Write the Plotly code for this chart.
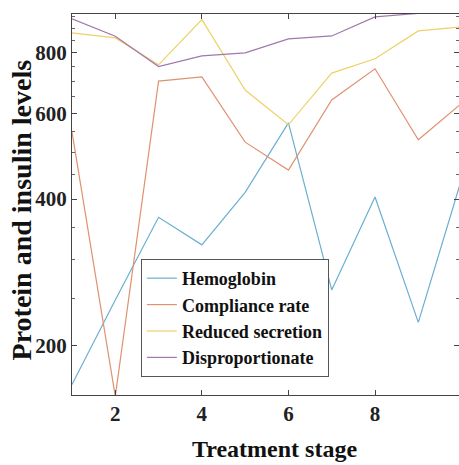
import plotly.graph_objects as go

stages = [1, 2, 3, 4, 5, 6, 7, 8, 9, 10]
hemoglobin = [166, 248, 367, 322, 413, 574, 260, 404, 223, 440]
compliance = [550, 157, 700, 714, 524, 459, 640, 742, 530, 630]
reduced = [880, 859, 756, 937, 671, 569, 727, 778, 888, 905]
dispro = [940, 866, 750, 789, 800, 855, 867, 949, 965, 975]

series = [
    ("Hemoglobin", hemoglobin, "#6aafd0"),
    ("Compliance rate", compliance, "#e09270"),
    ("Reduced secretion", reduced, "#eed168"),
    ("Disproportionate", dispro, "#a078ac"),
]

y_ticks = [200, 400, 600, 800]
y_minor = [150, 250, 300, 350, 450, 500, 550, 650, 700, 750, 850, 900, 950]
x_ticks = [2, 4, 6, 8]

FONT = "Liberation Serif, Times New Roman, serif"

fig = go.Figure()
for name, vals, color in series:
    fig.add_trace(go.Scatter(x=stages, y=vals, mode="lines", name=name,
                             line=dict(color=color, width=1.2)))

axis_common = dict(showgrid=False, zeroline=False, showline=True, linecolor="#444444",
                   linewidth=1, mirror="allticks", ticks="inside", tickcolor="#444444",
                   ticklen=5, tickwidth=1,
                   tickfont=dict(family=FONT, size=21, color="#222222", weight="bold"))

fig.update_layout(
    width=459, height=465,
    margin=dict(l=72, r=0, t=14, b=70),
    paper_bgcolor="white", plot_bgcolor="white",
    showlegend=True,
    legend=dict(x=0.178, y=0.357, xanchor="left", yanchor="top",
                bgcolor="white", bordercolor="#555555", borderwidth=1,
                font=dict(family=FONT, size=18, color="#111111", weight="bold"),
                itemwidth=30, tracegroupgap=0),
    xaxis=dict(range=[1, 9.94], tickmode="array", tickvals=x_ticks, **axis_common),
    yaxis=dict(type="log", range=[2.1987, 2.9832], tickmode="array", tickvals=y_ticks,
               minor=dict(tickmode="array", tickvals=y_minor, ticks="inside", ticklen=3,
                          tickcolor="#666666"),
               **axis_common),
    annotations=[
        dict(text="Treatment stage", xref="paper", yref="paper", x=0.523, y=-0.143,
             xanchor="center", yanchor="middle", showarrow=False,
             font=dict(family=FONT, size=24, color="#111111", weight="bold")),
        dict(text="Protein and insulin levels", xref="paper", yref="paper", x=-0.128, y=0.4856,
             xanchor="center", yanchor="middle", showarrow=False, textangle=-90,
             font=dict(family=FONT, size=28, color="#111111", weight="bold")),
    ],
)

fig.write_html("out.html", config={"displayModeBar": False},
               post_script="document.body.style.margin='0';document.body.style.overflow='hidden';")
